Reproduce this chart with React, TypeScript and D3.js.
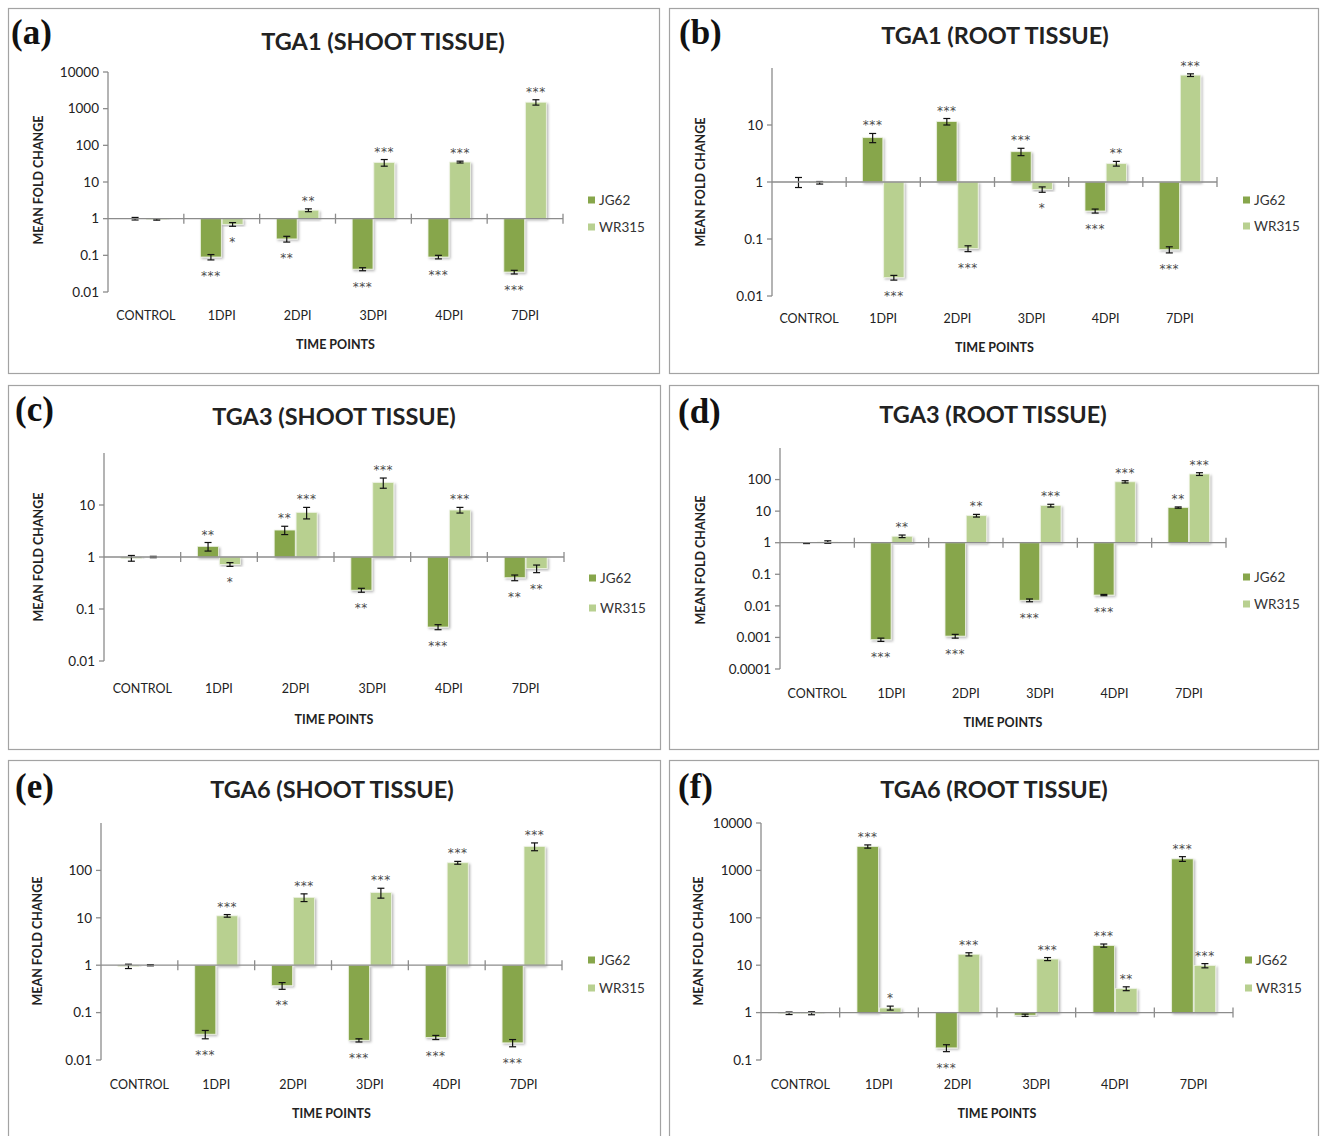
import React from "react";
import * as d3 from "d3";

const categories = ["CONTROL", "1DPI", "2DPI", "3DPI", "4DPI", "7DPI"];
const series = ["JG62", "WR315"];
const colors = ["#87a64b", "#b8d090"];

// (a) TGA1 shoot
const tga1ShootJG62 = [1.0, 0.09, 0.28, 0.042, 0.09, 0.035];
const tga1ShootJG62Err = [0.08, 0.015, 0.05, 0.004, 0.01, 0.004];
const tga1ShootJG62Sig = ["", "***", "**", "***", "***", "***"];
const tga1ShootWR315 = [0.95, 0.7, 1.7, 34, 35, 1500];
const tga1ShootWR315Err = [0.04, 0.08, 0.15, 7, 2, 250];
const tga1ShootWR315Sig = ["", "*", "**", "***", "***", "***"];
const tga1ShootTicks = [0.01, 0.1, 1, 10, 100, 1000, 10000];

// (b) TGA1 root
const tga1RootJG62 = [1.0, 6, 11.5, 3.4, 0.31, 0.065];
const tga1RootJG62Err = [0.2, 1.1, 1.5, 0.5, 0.025, 0.008];
const tga1RootJG62Sig = ["", "***", "***", "***", "***", "***"];
const tga1RootWR315 = [0.97, 0.021, 0.068, 0.74, 2.1, 75];
const tga1RootWR315Err = [0.05, 0.002, 0.008, 0.08, 0.2, 4];
const tga1RootWR315Sig = ["", "***", "***", "*", "**", "***"];
const tga1RootTicks = [0.01, 0.1, 1, 10];

// (c) TGA3 shoot
const tga3ShootJG62 = [0.95, 1.6, 3.3, 0.23, 0.045, 0.4];
const tga3ShootJG62Err = [0.12, 0.3, 0.6, 0.02, 0.005, 0.05];
const tga3ShootJG62Sig = ["", "**", "**", "**", "***", "**"];
const tga3ShootWR315 = [1.0, 0.72, 7.2, 27, 8, 0.6];
const tga3ShootWR315Err = [0.03, 0.06, 1.8, 6, 1, 0.1];
const tga3ShootWR315Sig = ["", "*", "***", "***", "***", "**"];
const tga3ShootTicks = [0.01, 0.1, 1, 10];

// (d) TGA3 root
const tga3RootJG62 = [0.97, 0.00085, 0.0011, 0.015, 0.022, 13];
const tga3RootJG62Err = [0.03, 0.0001, 0.00015, 0.0015, 0.001, 0.6];
const tga3RootJG62Sig = ["", "***", "***", "***", "***", "**"];
const tga3RootWR315 = [1.05, 1.6, 7.2, 15, 85, 150];
const tga3RootWR315Err = [0.1, 0.15, 0.7, 1.5, 7, 15];
const tga3RootWR315Sig = ["", "**", "**", "***", "***", "***"];
const tga3RootTicks = [0.0001, 0.001, 0.01, 0.1, 1, 10, 100];

// (e) TGA6 shoot
const tga6ShootJG62 = [0.95, 0.035, 0.37, 0.026, 0.03, 0.023];
const tga6ShootJG62Err = [0.1, 0.007, 0.06, 0.002, 0.003, 0.004];
const tga6ShootJG62Sig = ["", "***", "**", "***", "***", "***"];
const tga6ShootWR315 = [1.0, 11, 27, 34, 145, 320];
const tga6ShootWR315Err = [0.03, 0.7, 5, 8, 10, 60];
const tga6ShootWR315Sig = ["", "***", "***", "***", "***", "***"];
const tga6ShootTicks = [0.01, 0.1, 1, 10, 100];

// (f) TGA6 root
const tga6RootJG62 = [0.97, 3200, 0.18, 0.88, 26, 1750];
const tga6RootJG62Err = [0.06, 250, 0.03, 0.05, 2, 200];
const tga6RootJG62Sig = ["", "***", "***", "", "***", "***"];
const tga6RootWR315 = [0.97, 1.25, 17, 13.5, 3.2, 9.8];
const tga6RootWR315Err = [0.07, 0.12, 1.3, 1, 0.3, 1];
const tga6RootWR315Sig = ["", "*", "***", "***", "**", "***"];
const tga6RootTicks = [0.1, 1, 10, 100, 1000, 10000];

const panels = [
  {
    letter: "(a)", title: "TGA1 (SHOOT TISSUE)",
    values: [tga1ShootJG62, tga1ShootWR315], errs: [tga1ShootJG62Err, tga1ShootWR315Err],
    sigs: [tga1ShootJG62Sig, tga1ShootWR315Sig], ticks: tga1ShootTicks,
    domain: [0.01, 10000], yRange: [292, 72], xRange: [108, 563],
    frame: [8, 8, 651, 365], letterPos: [11, 44], titlePos: [383, 50],
    catY: 320, timeY: 349, yLabel: [39, 180], legend: [588, 200, 227],
  },
  {
    letter: "(b)", title: "TGA1 (ROOT TISSUE)",
    values: [tga1RootJG62, tga1RootWR315], errs: [tga1RootJG62Err, tga1RootWR315Err],
    sigs: [tga1RootJG62Sig, tga1RootWR315Sig], ticks: tga1RootTicks,
    domain: [0.01, 100], yRange: [296, 68], xRange: [772, 1217],
    frame: [669, 8, 649, 365], letterPos: [679, 44], titlePos: [995, 44],
    catY: 323, timeY: 352, yLabel: [701, 182], legend: [1243, 200, 226],
  },
  {
    letter: "(c)", title: "TGA3 (SHOOT TISSUE)",
    values: [tga3ShootJG62, tga3ShootWR315], errs: [tga3ShootJG62Err, tga3ShootWR315Err],
    sigs: [tga3ShootJG62Sig, tga3ShootWR315Sig], ticks: tga3ShootTicks,
    domain: [0.01, 100], yRange: [661, 453], xRange: [104, 564],
    frame: [8, 385, 652, 364], letterPos: [15, 421], titlePos: [334, 425],
    catY: 693, timeY: 724, yLabel: [39, 557], legend: [589, 578, 608],
  },
  {
    letter: "(d)", title: "TGA3 (ROOT TISSUE)",
    values: [tga3RootJG62, tga3RootWR315], errs: [tga3RootJG62Err, tga3RootWR315Err],
    sigs: [tga3RootJG62Sig, tga3RootWR315Sig], ticks: tga3RootTicks,
    domain: [0.0001, 1000], yRange: [669, 448], xRange: [780, 1226],
    frame: [669, 385, 649, 364], letterPos: [678, 423], titlePos: [993, 423],
    catY: 698, timeY: 727, yLabel: [701, 560], legend: [1243, 577, 604],
  },
  {
    letter: "(e)", title: "TGA6 (SHOOT TISSUE)",
    values: [tga6ShootJG62, tga6ShootWR315], errs: [tga6ShootJG62Err, tga6ShootWR315Err],
    sigs: [tga6ShootJG62Sig, tga6ShootWR315Sig], ticks: tga6ShootTicks,
    domain: [0.01, 1000], yRange: [1060, 823], xRange: [101, 562],
    frame: [8, 760, 652, 390], letterPos: [15, 798], titlePos: [332, 798],
    catY: 1089, timeY: 1118, yLabel: [38, 941], legend: [588, 960, 988],
  },
  {
    letter: "(f)", title: "TGA6 (ROOT TISSUE)",
    values: [tga6RootJG62, tga6RootWR315], errs: [tga6RootJG62Err, tga6RootWR315Err],
    sigs: [tga6RootJG62Sig, tga6RootWR315Sig], ticks: tga6RootTicks,
    domain: [0.1, 10000], yRange: [1060, 823], xRange: [761, 1233],
    frame: [669, 760, 649, 390], letterPos: [678, 798], titlePos: [994, 798],
    catY: 1089, timeY: 1118, yLabel: [699, 941], legend: [1245, 960, 988],
  },
];

const sans = "Lato, 'Open Sans', sans-serif";
const axisColor = "#8c8c8c";

function Panel({ p }: { p: any }) {
  const y = d3.scaleLog().domain(p.domain).range(p.yRange);
  const x0 = d3.scaleBand().domain(categories).range(p.xRange);
  const bw = x0.bandwidth();
  const x1 = d3.scaleBand().domain(series).range([bw * 0.22, bw * 0.78]).paddingInner(0.04);
  const base = y(1);
  const [fx, fy, fw, fh] = p.frame;
  return (
    <g>
      <rect x={fx + 0.5} y={fy + 0.5} width={fw} height={fh} fill="#fff" stroke="#a3a3a3" strokeWidth={1.2} />
      <text x={p.letterPos[0]} y={p.letterPos[1]} fontFamily="'Liberation Serif', 'DejaVu Serif', serif"
        fontWeight="bold" fontSize={35} fill="#111">{p.letter}</text>
      <text x={p.titlePos[0]} y={p.titlePos[1]} textAnchor="middle" fontFamily={sans} fontWeight="bold"
        fontSize={23.5} fill="#222">{p.title}</text>

      {/* y axis */}
      <line x1={p.xRange[0]} x2={p.xRange[0]} y1={p.yRange[0]} y2={p.yRange[1]} stroke={axisColor} strokeWidth={1.3} />
      {p.ticks.map((t: number) => (
        <g key={t}>
          <line x1={p.xRange[0] - 5} x2={p.xRange[0]} y1={y(t)} y2={y(t)} stroke={axisColor} strokeWidth={1.3} />
          <text x={p.xRange[0] - 9} y={y(t)} dy="0.35em" textAnchor="end" fontFamily={sans} fontSize={13.5} fill="#222">
            {String(t)}
          </text>
        </g>
      ))}
      <text transform={`translate(${p.yLabel[0]},${p.yLabel[1]}) rotate(-90)`} textAnchor="middle" dy="0.35em"
        fontFamily={sans} fontWeight="bold" fontSize={12.5} fill="#222">MEAN FOLD CHANGE</text>

      {/* bars */}
      {categories.map((c, i) => (
        <g key={c} transform={`translate(${x0(c)},0)`}>
          {series.map((s, k) => {
            const v = p.values[k][i];
            const e = p.errs[k][i];
            const bx = x1(s) as number;
            const w = x1.bandwidth();
            const yv = y(v);
            const top = Math.min(yv, base);
            const h = Math.abs(yv - base);
            const eHi = y(v + e);
            const eLo = y(Math.max(v - e, p.domain[0]));
            const cx = bx + w / 2;
            const up = v >= 1;
            const sig = p.sigs[k][i];
            return (
              <g key={s}>
                {h > 0.5 && (
                  <rect x={bx} y={top} width={w} height={h} fill={colors[k]} stroke="#eef3e4"
                    strokeWidth={0.8} filter="url(#shadow)" />
                )}
                <line x1={cx} x2={cx} y1={eHi} y2={eLo} stroke="#111" strokeWidth={1.2} />
                <line x1={cx - 3.5} x2={cx + 3.5} y1={eHi} y2={eHi} stroke="#111" strokeWidth={1.2} />
                <line x1={cx - 3.5} x2={cx + 3.5} y1={eLo} y2={eLo} stroke="#111" strokeWidth={1.2} />
                {sig && (
                  <text x={cx} y={up ? eHi - 4 : eLo + 20} textAnchor="middle" fontFamily="'DejaVu Sans', sans-serif"
                    fontSize={12} letterSpacing={0.6} fill="#4a4a4a">{sig}</text>
                )}
              </g>
            );
          })}
          <text x={bw / 2} y={p.catY} textAnchor="middle" fontFamily={sans} fontSize={12.5} fill="#222">{c}</text>
        </g>
      ))}

      {/* baseline at 1 */}
      <line x1={p.xRange[0]} x2={p.xRange[1]} y1={base} y2={base} stroke={axisColor} strokeWidth={1.3} />
      {categories.map((c) => (
        <line key={c} x1={(x0(c) as number) + bw} x2={(x0(c) as number) + bw} y1={base - 5} y2={base + 5}
          stroke={axisColor} strokeWidth={1.3} />
      ))}

      <text x={(p.xRange[0] + p.xRange[1]) / 2} y={p.timeY} textAnchor="middle" fontFamily={sans}
        fontWeight="bold" fontSize={12.5} fill="#222">TIME POINTS</text>

      {/* legend */}
      {series.map((s, k) => (
        <g key={s}>
          <rect x={p.legend[0]} y={p.legend[k + 1] - 3.5} width={7} height={7} fill={colors[k]} />
          <text x={p.legend[0] + 11} y={p.legend[k + 1]} dy="0.35em" fontFamily={sans} fontSize={13.5} fill="#333">{s}</text>
        </g>
      ))}
    </g>
  );
}

export default function App() {
  return (
    <div style={{ position: "absolute", left: 0, top: 0 }}>
      <svg width={1320} height={1136} style={{ display: "block", background: "#fff" }}>
        <defs>
          <filter id="shadow" x="-20%" y="-20%" width="150%" height="150%">
            <feDropShadow dx="1.5" dy="1.5" stdDeviation="1" floodColor="#000" floodOpacity="0.28" />
          </filter>
        </defs>
        {panels.map((p) => (
          <Panel key={p.letter} p={p} />
        ))}
      </svg>
    </div>
  );
}
